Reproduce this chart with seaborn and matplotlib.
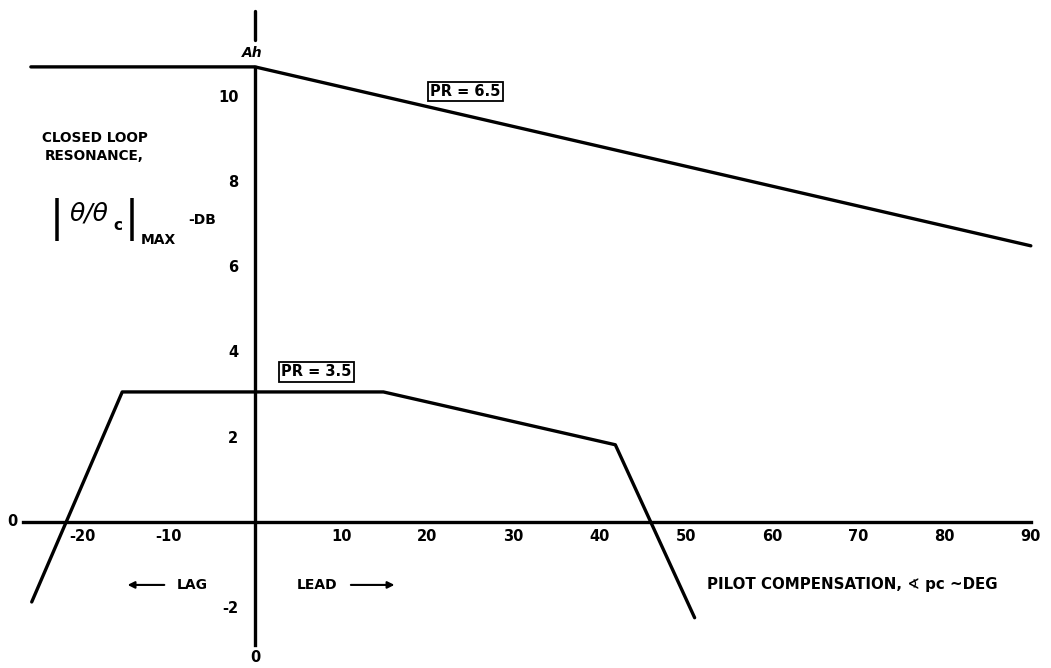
import numpy as np
import pandas as pd
import matplotlib
matplotlib.use("Agg")
import matplotlib.pyplot as plt
import seaborn as sns

sns.set_style("white")
plt.rcParams['font.family'] = ['DejaVu Sans']
plt.rcParams['font.weight'] = 'bold'
plt.rcParams['text.color'] = 'black'
plt.rcParams['xtick.color'] = 'black'
plt.rcParams['ytick.color'] = 'black'
plt.rcParams['axes.unicode_minus'] = False

# PR = 6.5 curve
pr65_x = [-26, 0, 90]
pr65_y = [10.68, 10.68, 6.48]

# PR = 3.5 curve
pr35_x = [-25.9, -15.4, 14.9, 41.8, 51.0]
pr35_y = [-1.88, 3.05, 3.05, 1.81, -2.25]

x_ticks = [-20, -10, 10, 20, 30, 40, 50, 60, 70, 80, 90]
y_ticks = [-2, 2, 4, 6, 8, 10]

df = pd.concat([
    pd.DataFrame({"comp": pr65_x, "res": pr65_y, "pr": "6.5"}),
    pd.DataFrame({"comp": pr35_x, "res": pr35_y, "pr": "3.5"}),
])

fig = plt.figure(figsize=(10.51, 6.68), dpi=100)
ax = fig.add_axes([0, 0, 1, 1])

sns.lineplot(data=df, x="comp", y="res", units="pr", estimator=None, sort=False,
             color="black", linewidth=2.4, ax=ax, legend=False)

ax.set_xlim(-29.58, 92.34)
ax.set_ylim(-3.43, 12.25)

# axes crossing at the origin
for s in ["top", "right"]:
    ax.spines[s].set_visible(False)
ax.spines["left"].set_position(("data", 0))
ax.spines["bottom"].set_position(("data", 0))
ax.spines["left"].set_bounds(-2.89, 10.68)
ax.spines["bottom"].set_bounds(-26.9, 90)
for s in ["left", "bottom"]:
    ax.spines[s].set_linewidth(2.4)
    ax.spines[s].set_color("black")

ax.set_xticks(x_ticks)
ax.set_yticks(y_ticks)
ax.tick_params(axis="x", direction="inout", length=6, width=1.5, pad=2, labelsize=10.5)
ax.tick_params(axis="y", direction="out", length=8.5, width=1.5, pad=3.5, labelsize=10.5)
for lab in ax.get_xticklabels() + ax.get_yticklabels():
    lab.set_fontweight("bold")
ax.set_xlabel("")
ax.set_ylabel("")

# short mark above the vertical axis
ax.plot([0, 0], [11.3, 12.0], color="black", linewidth=2.4)
ax.text(-0.3, 11.0, "Ah", ha="center", va="center", fontsize=10, style="italic")

ax.text(-28.2, 0, "0", ha="center", va="center", fontsize=10.5)
ax.text(0, -3.19, "0", ha="center", va="center", fontsize=10.5)

box = dict(boxstyle="square,pad=0.15", fc="white", ec="black", lw=1.3)
ax.text(24.4, 10.1, "PR = 6.5", ha="center", va="center", fontsize=10.5, bbox=box)
ax.text(7.1, 3.52, "PR = 3.5", ha="center", va="center", fontsize=10.5, bbox=box)

ax.text(-18.6, 8.8, "CLOSED LOOP\nRESONANCE,", ha="center", va="center",
        fontsize=9.8, linespacing=1.3)

# |theta/theta_c| with tall bars
ax.text(-22.95, 7.09, "|", ha="center", va="center", fontsize=30, fontweight="normal")
ax.text(-14.3, 7.09, "|", ha="center", va="center", fontsize=30, fontweight="normal")
ax.text(-19.3, 7.25, "\u03b8/\u03b8", ha="center", va="center",
        fontsize=18, fontweight="normal", style="italic")
ax.text(-15.85, 6.95, "c", ha="center", va="center", fontsize=11)
ax.text(-11.25, 6.62, "MAX", ha="center", va="center", fontsize=10)
ax.text(-6.15, 7.09, "-DB", ha="center", va="center", fontsize=10)

arrow = dict(arrowstyle="-|>", color="black", lw=1.5, mutation_scale=10)
ax.annotate("", xy=(-15.1, -1.48), xytext=(-10.2, -1.48), arrowprops=arrow)
ax.text(-9.05, -1.48, "LAG", ha="left", va="center", fontsize=10)
ax.text(4.87, -1.48, "LEAD", ha="left", va="center", fontsize=10)
ax.annotate("", xy=(16.5, -1.48), xytext=(10.8, -1.48), arrowprops=arrow)

ax.text(52.4, -1.48, "PILOT COMPENSATION, \u2222 pc ~DEG", ha="left", va="center",
        fontsize=10.8)

fig.savefig("out.png", dpi=100)
